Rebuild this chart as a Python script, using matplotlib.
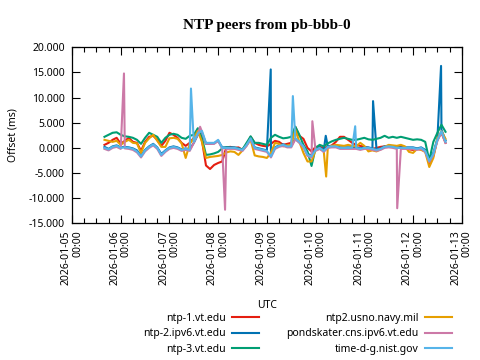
import numpy as np
import pandas as pd
import matplotlib
matplotlib.use("Agg")
import matplotlib.pyplot as plt
import matplotlib.dates as mdates
from matplotlib.lines import Line2D

plt.rcParams["font.family"] = ["Noto Sans", "DejaVu Sans"]
plt.rcParams["font.size"] = 7.5

# ================= DATA =================
# sample hours after 2026-01-05 00:00 UTC (every 2 h)
hours = list(range(16, 185, 2))

ntp1 = [0.6, 1.0, 1.6, 2.0, 0.8, 1.4, 2.0, 1.2, 1.0, -0.6,
        1.2, 2.2, 2.4, 1.6, 0.4, 1.4, 3.0, 2.6, 2.0, 1.0,
        0.4, 1.0, 2.0, 3.8, 1.5, -3.5, -4.2, -3.4, -3.0, -2.7,
        0.1, 0.2, 0.0, 0.1, -0.4, 0.5, 2.2, 1.0, 0.6, 0.4,
        0.3, 0.8, 1.4, 1.2, 0.6, 0.8, 1.0, 4.2, 2.4, 1.8,
        0.0, -0.7, 0.2, 0.2, 0.0, 0.2, 0.5, 1.2, 2.2, 2.2,
        1.6, 1.0, 0.6, 0.4, 0.2, 0.0, -0.2, 0.0, 0.2, 0.3,
        0.4, 0.2, 0.0, 0.2, 0.0, -0.3, -0.4, -0.2, -0.3, -0.6,
        -3.0, -1.6, 1.6, 3.0, 1.0]

ntp2 = [0.2, -0.2, 0.3, 0.5, 0.1, 0.2, 0.1, -0.1, -0.5, -1.5,
        -0.4, 0.3, 0.8, 0.1, -1.2, -0.5, 0.1, 0.3, 0.1, -0.3,
        -0.1, -0.3, 1.0, 2.6, 3.0, 0.8, 0.8, 0.9, 1.4, 0.1,
        0.1, 0.1, 0.1, -0.1, -0.3, 0.7, 1.8, 0.1, -0.1, -0.3,
        -0.5, -1.5, 0.1, 0.5, 0.7, 0.4, 0.4, 1.8, 1.1, 0.4,
        -1.2, -1.5, -0.3, 0.1, -0.5, 0.3, 0.4, 0.4, 0.1, 0.1,
        0.1, 0.1, 0.1, -0.1, 0.1, 0.1, -0.1, -0.3, -0.1, 0.3,
        0.4, 0.3, 0.1, 0.1, 0.1, 0.1, 0.1, -0.1, 0.1, -0.4,
        -2.4, -1.0, 1.8, 3.6, 1.5]

ntp3 = [2.2, 2.6, 3.0, 3.1, 2.6, 2.3, 2.2, 2.0, 1.6, 0.8,
        2.0, 3.0, 2.6, 2.2, 1.0, 2.0, 2.6, 2.8, 2.6, 2.0,
        1.8, 2.4, 2.6, 3.9, 2.0, -1.4, -1.3, -1.1, -0.8, -0.1,
        0.1, 0.0, 0.0, -0.2, -0.3, 1.0, 2.3, 1.0, 1.0, 0.8,
        0.6, 2.0, 2.6, 2.2, 1.9, 2.0, 2.2, 4.2, 2.6, 0.6,
        -0.7, -3.6, 0.0, 0.6, 0.3, 0.9, 1.3, 1.6, 1.8, 2.0,
        1.8, 1.6, 1.6, 1.8, 2.0, 1.7, 1.6, 1.8, 2.0, 2.4,
        2.0, 2.2, 2.0, 2.2, 2.0, 1.8, 1.6, 1.7, 1.6, 1.2,
        -2.5, 1.2, 3.0, 4.6, 3.2]

usno = [1.6, 1.4, 1.2, 1.4, 0.6, 1.2, 1.6, 1.0, 0.9, -1.0,
        1.0, 1.9, 2.6, 1.4, 0.2, 0.2, 1.9, 2.0, 1.8, 0.9,
        -2.0, 0.8, 1.9, 3.4, 1.2, -2.0, -1.8, -1.7, -1.6, -1.4,
        -0.9, -0.7, -0.8, -1.4, -0.5, 0.5, 1.6, -1.5, -1.7, -1.8,
        -2.0, -1.0, 1.0, 0.8, 0.3, 0.5, 0.6, 3.6, 1.2, -1.0,
        -2.7, -2.7, -0.4, -0.2, -0.6, 0.0, 0.4, 0.6, 0.5, 0.4,
        0.6, 0.4, 0.3, 1.0, 0.4, -0.7, -0.5, -0.7, -0.3, 0.2,
        0.6, 0.5, 0.4, 0.6, 0.3, -0.8, -1.0, -0.2, -0.4, -0.8,
        -3.8, -2.0, 1.9, 3.3, 1.8]

pond = [-0.2, -0.5, 0.0, 0.2, -0.2, -0.1, -0.2, -0.4, -0.9, -1.9,
        -0.7, 0.0, 0.5, -0.2, -1.6, -0.8, -0.2, 0.0, -0.2, -0.6,
        -0.4, -0.6, 1.0, 2.7, 3.2, 0.8, 0.8, 0.8, 1.4, -0.2,
        -0.2, -0.2, -0.2, -0.4, -0.6, 0.4, 1.7, -0.2, -0.4, -0.6,
        -0.8, -1.9, -0.2, 0.2, 0.4, 0.1, 0.1, 1.7, 1.0, 0.1,
        -1.6, -1.9, -0.6, -0.2, -0.8, 0.0, 0.1, 0.1, -0.2, -0.2,
        -0.2, -0.2, -0.2, -0.4, -0.2, -0.2, -0.4, -0.6, -0.4, 0.0,
        0.1, 0.0, -0.2, -0.2, -0.2, -0.2, -0.2, -0.4, -0.2, -0.8,
        -2.8, -1.4, 1.4, 3.1, 1.0]

nist = [0.0, -0.3, 0.2, 0.4, 0.0, 0.1, 0.0, -0.2, -0.7, -1.7,
        -0.5, 0.2, 0.7, 0.0, -1.4, -0.6, 0.0, 0.2, 0.0, -0.4,
        -0.2, -0.4, 1.2, 2.9, 3.4, 1.0, 1.0, 1.0, 1.6, 0.0,
        0.0, 0.0, 0.0, -0.2, -0.4, 0.6, 1.9, 0.0, -0.2, -0.4,
        -0.6, -1.7, 0.0, 0.4, 0.6, 0.3, 0.3, 1.9, 1.2, 0.3,
        -1.4, -1.7, -0.4, 0.0, -0.6, 0.2, 0.3, 0.3, 0.0, 0.0,
        0.0, 0.0, 0.0, -0.2, 0.0, 0.0, -0.2, -0.4, -0.2, 0.2,
        0.3, 0.2, 0.0, 0.0, 0.0, 0.0, 0.0, -0.2, 0.0, -0.6,
        -2.6, -1.2, 1.6, 3.3, 1.2]

# single-sample spikes (hour, offset ms)
ntp2_spikes = [(97.9, 15.6), (125.0, 2.4), (148.3, 9.3), (181.8, 16.3)]
usno_spikes = [(125.2, -5.7)]
pond_spikes = [(25.6, 14.8), (63.1, 4.2), (75.4, -12.3), (118.4, 5.3), (160.2, -12.0)]
nist_spikes = [(58.6, 11.8), (108.8, 10.3), (139.5, 4.3)]

names = ["ntp-1.vt.edu", "ntp-2.ipv6.vt.edu", "ntp-3.vt.edu",
         "ntp2.usno.navy.mil", "pondskater.cns.ipv6.vt.edu", "time-d-g.nist.gov"]
colors = ["#e51e10", "#0072b2", "#009e73", "#e69f00", "#cc79a7", "#56b4e9"]

t0 = pd.Timestamp("2026-01-05")


def make_series(vals, spikes):
    df = pd.DataFrame({"h": hours, "v": vals})
    if spikes:
        df = pd.concat([df, pd.DataFrame(spikes, columns=["h", "v"])])
    df = df.sort_values("h")
    return t0 + pd.to_timedelta(df["h"], unit="h"), df["v"]


series = [
    make_series(ntp1, []),
    make_series(ntp2, ntp2_spikes),
    make_series(ntp3, []),
    make_series(usno, usno_spikes),
    make_series(pond, pond_spikes),
    make_series(nist, nist_spikes),
]

# ================= PLOT =================
fig = plt.figure(figsize=(4.8, 3.6), dpi=100)
ax = fig.add_axes([0.15, 0.3797, 0.812, 0.4889])

for (t, v), c in zip(series, colors):
    ax.plot(t, v, color=c, lw=1.5)

ax.set_xlim(t0, pd.Timestamp("2026-01-13"))
ax.set_ylim(-15, 20)
ax.set_yticks(np.arange(-15, 21, 5))
ax.yaxis.set_major_formatter(matplotlib.ticker.FormatStrFormatter("%.3f"))

ax.xaxis.set_major_locator(mdates.DayLocator())
ax.xaxis.set_minor_locator(mdates.HourLocator(byhour=[6, 12, 18]))
ax.xaxis.set_major_formatter(mdates.DateFormatter("%Y-%m-%d\n%H:%M"))

ax.tick_params(axis="both", which="both", direction="in", top=True, right=True,
               color="black", labelcolor="black")
ax.tick_params(axis="both", which="major", length=6, width=0.8)
ax.tick_params(axis="x", which="minor", length=3.5, width=0.8)
ax.tick_params(axis="x", which="major", pad=5)
ax.tick_params(axis="y", which="major", pad=5)
for lab in ax.get_xticklabels():
    lab.set_rotation(90)
    lab.set_ha("center")
    lab.set_va("top")
    lab.set_multialignment("right")
    lab.set_linespacing(1.05)

for s in ax.spines.values():
    s.set_linewidth(0.9)

ax.set_title("NTP peers from pb-bbb-0", family=["Liberation Serif", "DejaVu Serif"],
             fontweight="bold", fontsize=11, pad=13)
ax.set_ylabel("Offset (ms)")
ax.yaxis.set_label_coords(-0.137, 0.5)
ax.set_xlabel("UTC")
ax.xaxis.set_label_coords(0.5, -0.435)

handles = [Line2D([], [], color=c, lw=1.5) for c in colors]
fig.legend(handles, names, ncol=2, loc="upper center", bbox_to_anchor=(0.62, 0.146),
           frameon=False, markerfirst=False, handlelength=2.6, handletextpad=0.6,
           columnspacing=2.6, labelspacing=0.45, borderpad=0, fontsize=7.5)

fig.savefig("out.png", dpi=100)
